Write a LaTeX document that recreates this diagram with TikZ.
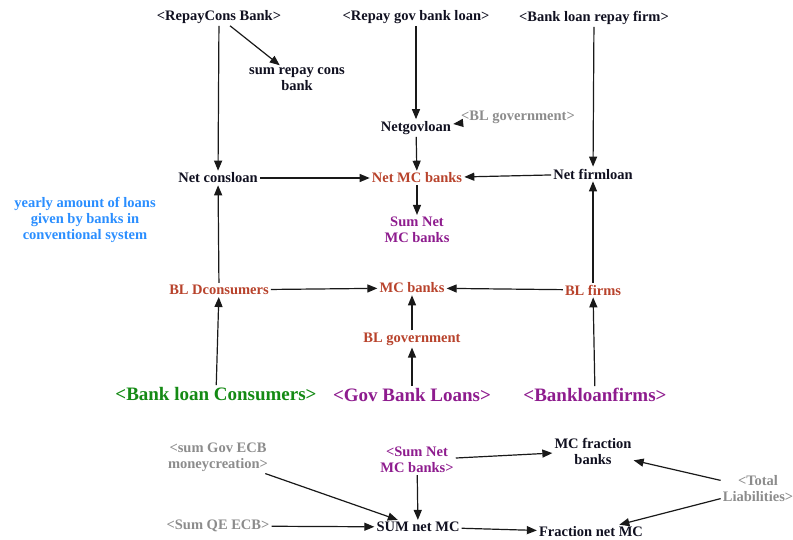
\documentclass[tikz,border=0pt]{standalone}
\usepackage{fontspec}
\setmainfont{Liberation Serif}[BoldFont={Liberation Serif Bold}]
\usetikzlibrary{arrows.meta}
\definecolor{cred}{HTML}{B8432C}
\definecolor{cgreen}{HTML}{148A14}
\definecolor{cpurple}{HTML}{8E1C8E}
\definecolor{cblue}{HTML}{2A8EFF}
\definecolor{cgray}{HTML}{8C8C8C}
\definecolor{cdark}{HTML}{101020}
\tikzset{
  var/.style={font=\fontsize{14.5}{16}\selectfont\bfseries, inner sep=2pt, align=center, text=cdark},
  big/.style={font=\fontsize{19}{21}\selectfont\bfseries, inner sep=2pt, align=center},
  link/.style={draw=black!90, line width=1.2pt, -{Triangle[length=10pt,width=8pt]}},
}
\begin{document}
\begin{tikzpicture}[x=1pt,y=-1pt]
\useasboundingbox (0,0) rectangle (793,540);
% nodes
\node[var] (rcb) at (219,17) {<RepayCons Bank>};
\node[var] (rgb) at (416,17) {<Repay gov bank loan>};
\node[var] (blrf) at (594,18) {<Bank loan repay firm>};
\node[var] (srcb) at (297,79) {sum repay cons\\bank};
\node[var] (ngl) at (416,128) {Netgovloan};
\node[var, text=cgray] (blgg) at (518,117) {<BL government>};
\node[var] (ncl) at (218,178) {Net consloan};
\node[var, text=cred] (nmcb) at (417,178) {Net MC banks};
\node[var] (nfl) at (593,174) {Net firmloan};
\node[var, text=cpurple] (snmcb) at (417,230) {Sum Net\\MC banks};
\node[var, text=cblue] (yearly) at (85,220) {yearly amount of loans\\given by banks in\\conventional system};
\node[var, text=cred] (bldc) at (219,290) {BL Dconsumers};
\node[var, text=cred] (mcb) at (412,288) {MC banks};
\node[var, text=cred] (blf) at (593,290) {BL firms};
\node[var, text=cred] (blg) at (412,339) {BL government};
\node[big, text=cgreen] (blc) at (216,394) {<Bank loan Consumers>};
\node[big, text=cpurple] (gbl) at (412,395) {<Gov Bank Loans>};
\node[big, text=cpurple] (blfs) at (595,395) {<Bankloanfirms>};
\node[var, text=cgray] (sgecb) at (218,457) {<sum Gov ECB\\moneycreation>};
\node[var, text=cpurple] (snmcb2) at (417,460) {<Sum Net\\MC banks>};
\node[var] (mcfb) at (593,451) {MC fraction\\banks};
\node[var, text=cgray] (tl) at (758,489) {<Total\\Liabilities>};
\node[var, text=cgray] (sqe) at (218,526) {<Sum QE ECB>};
\node[var] (snmc) at (418,527) {SUM net MC};
\node[var] (fnmc) at (591,532) {Fraction net MC};
% links
\draw[link] (rcb) -- (ncl);
\draw[link] (rcb) -- (srcb);
\draw[link] (rgb) -- (ngl);
\draw[link] (blrf) -- (nfl);
\draw[link] (blgg) -- (ngl);
\draw[link] (ngl) -- (nmcb);
\draw[link] (ncl) -- (nmcb);
\draw[link] (nfl) -- (nmcb);
\draw[link] (nmcb) -- (snmcb);
\draw[link] (bldc) -- (ncl);
\draw[link] (bldc) -- (mcb);
\draw[link] (blf) -- (mcb);
\draw[link] (blf) -- (nfl);
\draw[link] (blg) -- (mcb);
\draw[link] (gbl) -- (blg);
\draw[link] (blc) -- (bldc);
\draw[link] (blfs) -- (blf);
\draw[link] (sgecb) -- (snmc);
\draw[link] (snmcb2) -- (snmc);
\draw[link] (snmcb2) -- (mcfb);
\draw[link] (sqe) -- (snmc);
\draw[link] (snmc) -- (fnmc);
\draw[link] (tl) -- (mcfb);
\draw[link] (tl) -- (fnmc);
\end{tikzpicture}
\end{document}
